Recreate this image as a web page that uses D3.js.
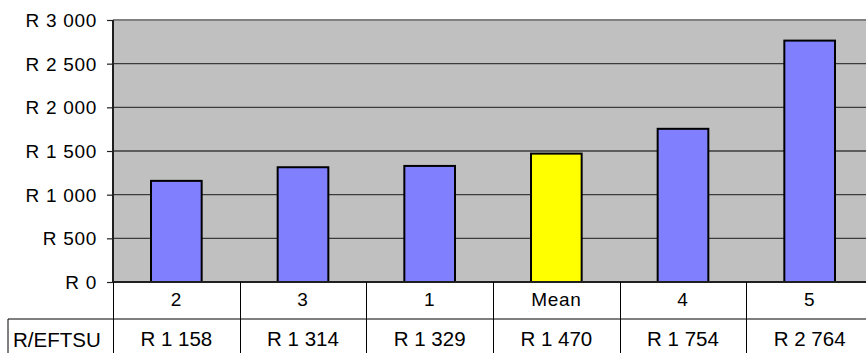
<!DOCTYPE html>
<html>
<head>
<meta charset="utf-8">
<script src="https://cdn.jsdelivr.net/npm/d3@7"></script>
<style>
  html, body { margin: 0; padding: 0; background: #fff; }
  svg { display: block; font-family: "Liberation Sans", Arial, sans-serif; }
</style>
</head>
<body>
<svg id="chart" width="866" height="353"></svg>
<script>
// Cost per EFTSU by group, with the mean highlighted
const categories = ["2", "3", "1", "Mean", "4", "5"];
const values = [1158, 1314, 1329, 1470, 1754, 2764];
const rowLabel = "R/EFTSU";
const yTicks = [0, 500, 1000, 1500, 2000, 2500, 3000];

const fmtRand = v => "R " + d3.format(",")(v).replace(/,/g, " ");

const W = 866, H = 353;
const plot = { left: 113, right: 873, top: 20, bottom: 282 };
const tableRowY = 319;

const svg = d3.select("#chart");

const x = d3.scaleBand().domain(categories).range([plot.left, plot.right]).padding(0);
const y = d3.scaleLinear().domain([0, 3000]).range([plot.bottom, plot.top]);
const barW = x.bandwidth() * 0.4;

// plot background
svg.append("rect")
  .attr("x", plot.left).attr("y", plot.top)
  .attr("width", plot.right - plot.left).attr("height", plot.bottom - plot.top)
  .attr("fill", "#c0c0c0");

// gridlines
svg.append("g").selectAll("line").data(yTicks.filter(t => t > 0 && t < 3000)).join("line")
  .attr("x1", plot.left).attr("x2", plot.right)
  .attr("y1", d => y(d)).attr("y2", d => y(d))
  .attr("stroke", "#3c3c3c").attr("stroke-width", 1.4);

// top border of plot area
svg.append("line")
  .attr("x1", plot.left).attr("x2", plot.right)
  .attr("y1", plot.top).attr("y2", plot.top)
  .attr("stroke", "#808080").attr("stroke-width", 2);

// bars
svg.append("g").selectAll("rect").data(categories).join("rect")
  .attr("x", d => x(d) + (x.bandwidth() - barW) / 2)
  .attr("y", (d, i) => y(values[i]))
  .attr("width", barW)
  .attr("height", (d, i) => y(0) - y(values[i]))
  .attr("fill", d => d === "Mean" ? "#ffff00" : "#8080ff")
  .attr("stroke", "#000").attr("stroke-width", 2);

// y axis
const yAxis = d3.axisLeft(y).tickValues(yTicks).tickSize(6).tickPadding(10).tickFormat(fmtRand);
const gy = svg.append("g").attr("transform", `translate(${plot.left},0)`).call(yAxis);
gy.select(".domain").attr("stroke", "#202020").attr("stroke-width", 2)
  .attr("d", `M0,${plot.top}V${plot.bottom}`);
gy.selectAll(".tick line").attr("stroke", "#202020").attr("stroke-width", 1.2);
gy.selectAll(".tick text")
  .attr("fill", "#000")
  .attr("font-size", "19px")
  .attr("letter-spacing", "0.7px")
  .attr("font-family", "Liberation Sans, Arial, sans-serif")
  .attr("dy", "0.35em");

// baseline of the plot
svg.append("line")
  .attr("x1", plot.left).attr("x2", plot.right)
  .attr("y1", plot.bottom).attr("y2", plot.bottom)
  .attr("stroke", "#202020").attr("stroke-width", 2);

// data table under the plot
const table = svg.append("g");
table.append("line")
  .attr("x1", 8).attr("x2", plot.right)
  .attr("y1", tableRowY).attr("y2", tableRowY)
  .attr("stroke", "#000").attr("stroke-width", 1);
table.append("line")
  .attr("x1", 8).attr("x2", 8)
  .attr("y1", tableRowY).attr("y2", H + 2)
  .attr("stroke", "#000").attr("stroke-width", 1);
table.selectAll("line.sep").data(categories).join("line")
  .attr("class", "sep")
  .attr("x1", d => Math.round(x(d)) + 0.5).attr("x2", d => Math.round(x(d)) + 0.5)
  .attr("y1", plot.bottom).attr("y2", H + 2)
  .attr("stroke", "#000").attr("stroke-width", 1);

table.selectAll("text.cat").data(categories).join("text")
  .attr("class", "cat")
  .attr("x", d => x(d) + x.bandwidth() / 2)
  .attr("y", 306)
  .attr("text-anchor", "middle")
  .attr("font-size", "19px")
  .attr("letter-spacing", "0.7px")
  .text(d => d);

table.selectAll("text.val").data(values).join("text")
  .attr("class", "val")
  .attr("x", (d, i) => x(categories[i]) + x.bandwidth() / 2)
  .attr("y", 345.5)
  .attr("text-anchor", "middle")
  .attr("font-size", "20.5px")
  .text(d => fmtRand(d));

table.append("text")
  .attr("x", 13)
  .attr("y", 346.5)
  .attr("font-size", "20.5px")
  .text(rowLabel);
</script>
</body>
</html>
